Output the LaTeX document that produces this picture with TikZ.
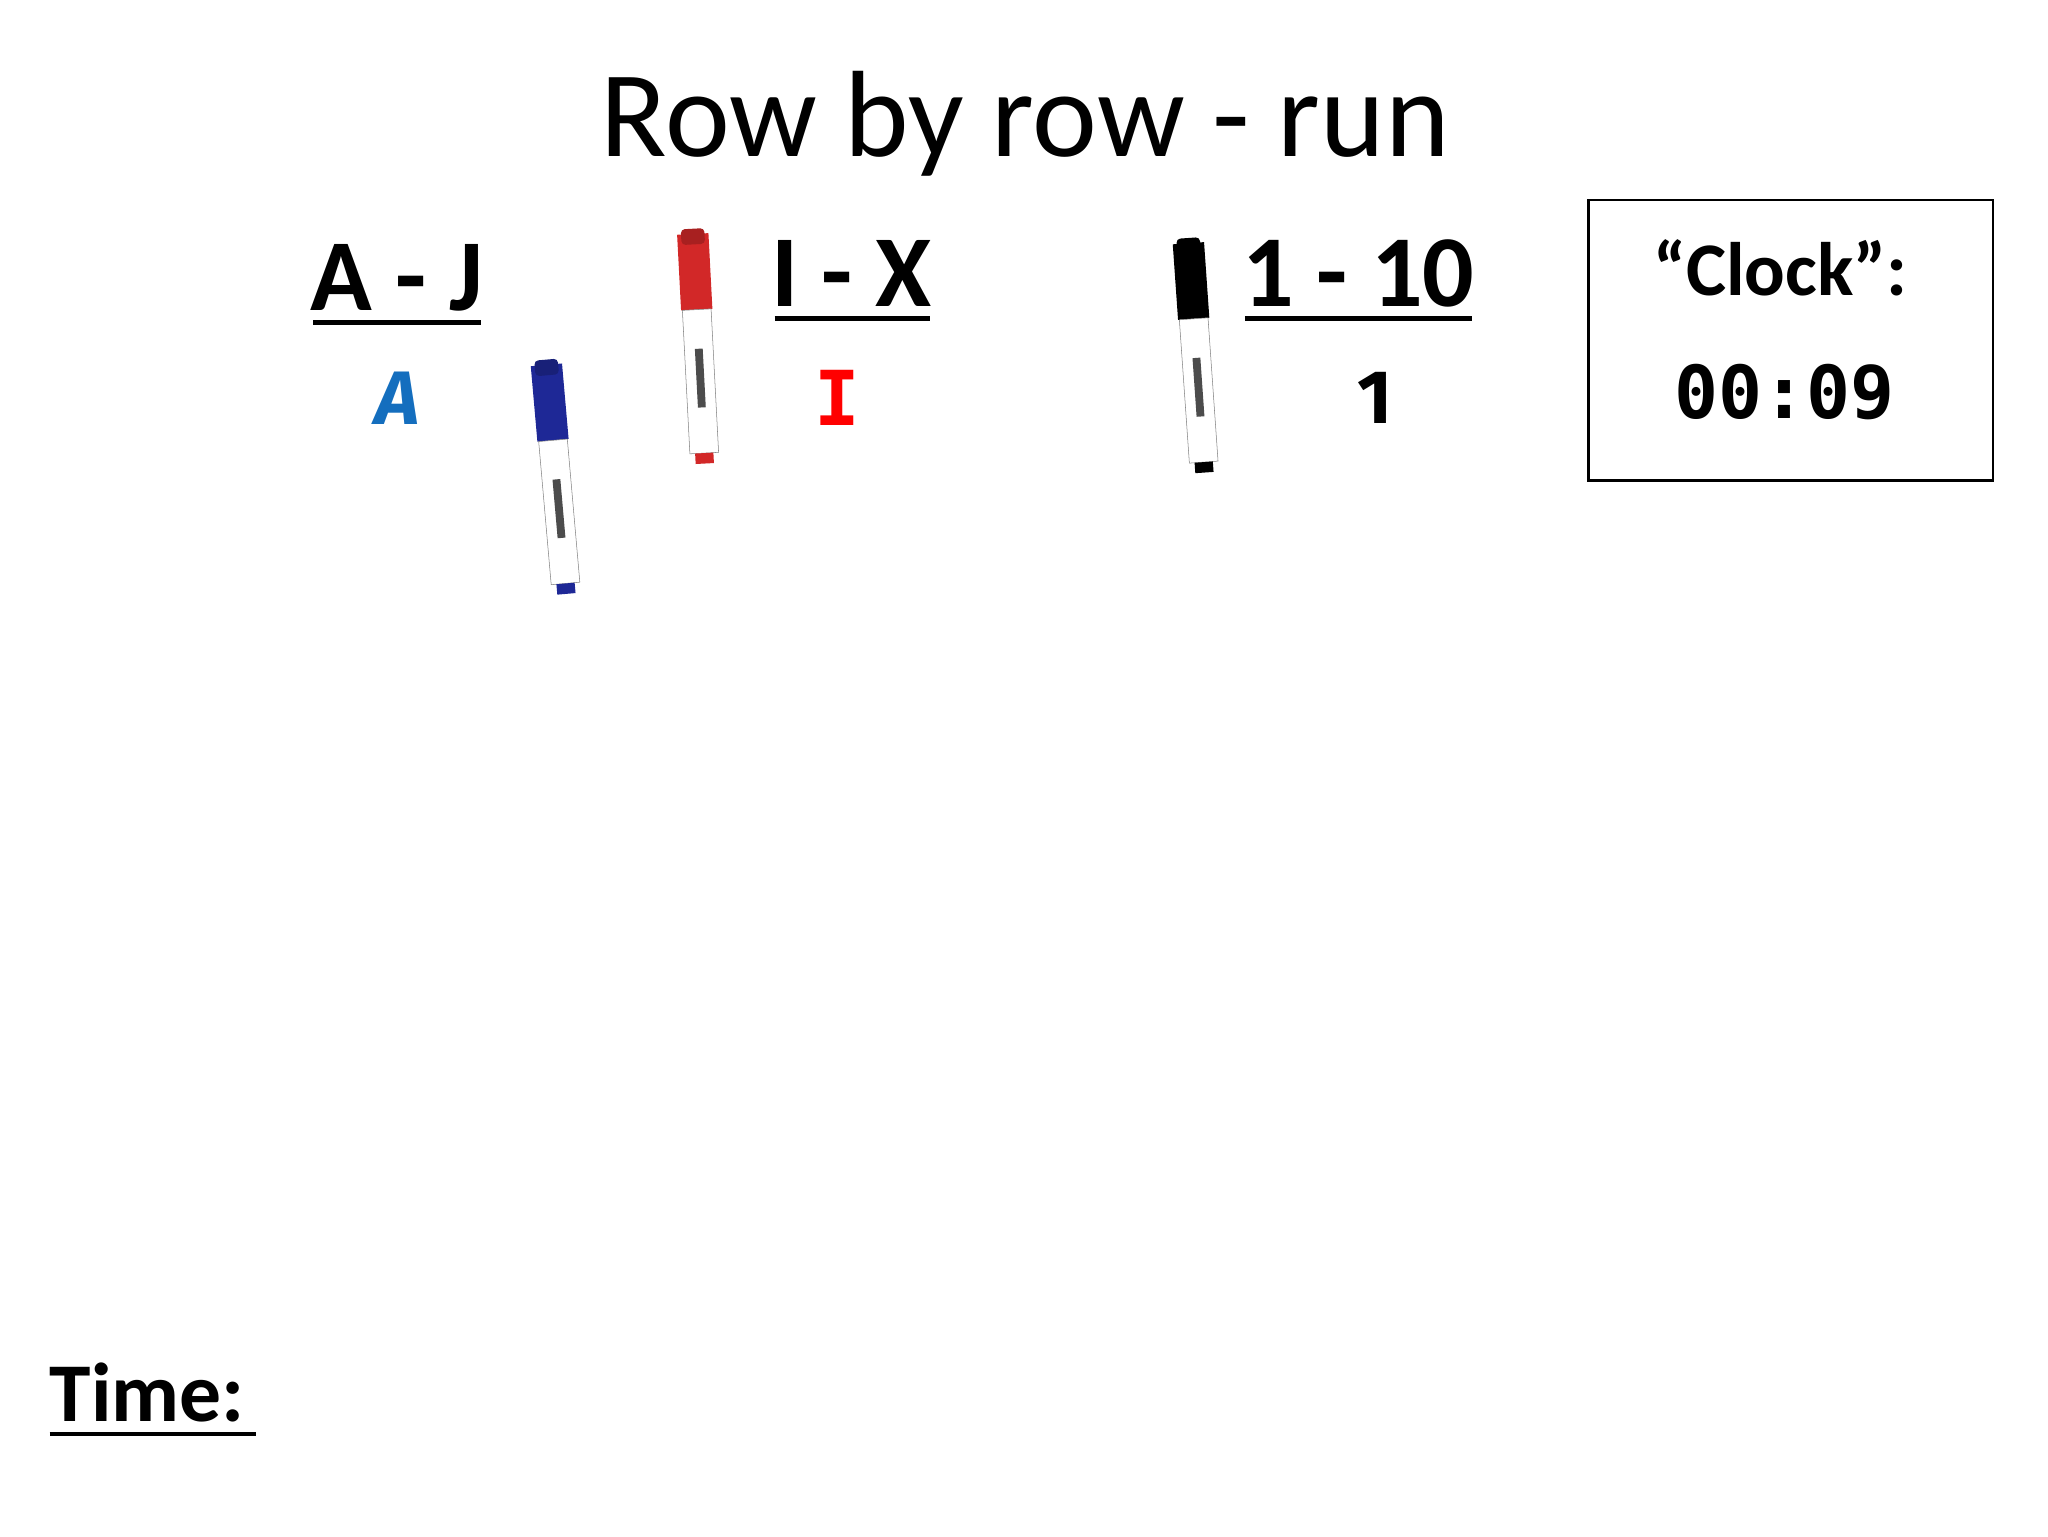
\documentclass[tikz,border=0pt]{standalone}
\usepackage{fontspec}
\setmainfont{Carlito}
\newfontfamily\mono{DejaVu Sans Mono}
\newfontfamily\comic{Fira Sans}
\definecolor{mblue}{RGB}{30,40,150}
\definecolor{mred}{RGB}{210,40,40}
\definecolor{lblue}{RGB}{20,110,190}
\begin{document}
\begin{tikzpicture}[x=1pt,y=-1pt,
 hd/.style={font=\fontsize{78}{80}\selectfont\bfseries,inner sep=0pt,anchor=base},
 ul/.style={line width=3.5pt},
 lt/.style={font=\comic\fontsize{58}{60}\selectfont\bfseries,inner sep=0pt}]
\useasboundingbox (0,0) rectangle (1568,1176);
\node[inner sep=0pt,anchor=base,font=\fontsize{94}{98}\selectfont] (title) at (785,120) {Row by row - run};
\node[hd] (aj) at (304,238) {A - J};
\draw[ul] (240,247) -- (368,247);
\node[hd] (ix) at (652,235) {I - X};
\draw[ul] (593,244) -- (712,244);
\node[hd] (ot) at (1040,235) {1 - 10};
\draw[ul] (953,244) -- (1127,244);
\node[lt,text=lblue] (a) at (304,305) {\itshape A};
\node[lt,text=red,font=\mono\fontsize{58}{60}\selectfont\bfseries] (i) at (641,305) {I};
\node[lt] (one) at (1053,305) {1};
\draw[line width=2pt] (1216,153) rectangle (1526,368);
\node[inner sep=0pt,font=\fontsize{58}{60}\selectfont\bfseries] (clk) at (1363,205) {“Clock”:};
\node[inner sep=0pt,font=\mono\fontsize{56}{60}\selectfont\bfseries] (tm) at (1366,300) {00:09};
\node[hd,anchor=base west,font=\fontsize{64}{66}\selectfont\bfseries] (time) at (38,1088) {Time:};
\draw[ul] (38,1098) -- (196,1098);
% markers
\foreach \x/\y/\c/\r in {426/367/mblue/5, 535/267/mred/3, 916/274/black/4}{
 \begin{scope}[shift={(\x,\y)},rotate=\r]
  \fill[\c] (-12,-88) rectangle (12,-30);
  \fill[\c!80!black,rounded corners=3pt] (-9,-92) rectangle (9,-80);
  \draw[gray,fill=white] (-11,-30) rectangle (11,80);
  \fill[\c] (-7,80) rectangle (7,88);
  \fill[black!70] (-3,0) rectangle (3,45);
 \end{scope}}
\end{tikzpicture}
\end{document}
